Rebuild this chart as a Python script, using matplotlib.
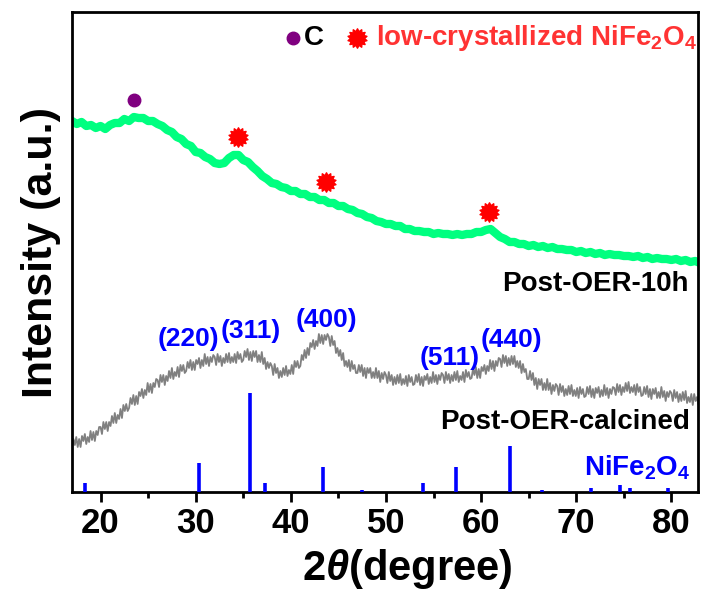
import numpy as np
import matplotlib
matplotlib.use("Agg")
import matplotlib.pyplot as plt
from matplotlib.path import Path

plt.rcParams['font.family'] = ['Liberation Sans', 'DejaVu Sans']
plt.rcParams['font.weight'] = 'bold'
plt.rcParams['mathtext.fontset'] = 'custom'
plt.rcParams['mathtext.rm'] = 'Liberation Sans:bold'
plt.rcParams['mathtext.bf'] = 'Liberation Sans:bold'
plt.rcParams['mathtext.it'] = 'Liberation Sans:italic'

# ---------------- data ----------------
# Post-OER-calcined (grey), 2theta grid 17.00 .. 83.00 step 0.15
calcined_start, calcined_step = 17.0, 0.15
calcined_intensity = [
    44, 53, 47, 55, 45, 53, 45, 56, 51, 58, 48, 55, 50, 61, 52, 60, 51, 61, 57, 65,
    65, 58, 70, 63, 70, 61, 70, 66, 76, 69, 79, 69, 77, 73, 83, 74, 87, 81, 88, 81,
    84, 94, 88, 97, 87, 96, 88, 100, 96, 103, 94, 102, 97, 109, 100, 108, 99, 109, 105, 113,
    112, 105, 117, 110, 117, 107, 116, 111, 121, 114, 124, 113, 120, 116, 125, 115, 127, 121, 127, 119,
    121, 130, 124, 132, 122, 130, 122, 132, 128, 134, 124, 132, 126, 138, 128, 135, 126, 135, 130, 137,
    135, 127, 138, 130, 136, 126, 134, 129, 138, 130, 139, 129, 135, 130, 138, 129, 140, 133, 138, 130,
    132, 141, 135, 143, 132, 140, 131, 141, 135, 141, 130, 137, 130, 140, 128, 134, 123, 130, 124, 129,
    126, 117, 128, 119, 124, 114, 121, 115, 124, 117, 126, 116, 122, 118, 127, 118, 131, 125, 131, 124,
    126, 137, 132, 142, 134, 144, 137, 149, 145, 152, 143, 151, 146, 158, 149, 157, 148, 157, 152, 158,
    155, 146, 156, 147, 151, 139, 144, 136, 142, 132, 139, 126, 131, 125, 132, 121, 131, 123, 127, 119,
    119, 127, 120, 127, 116, 124, 114, 124, 119, 124, 114, 120, 114, 124, 114, 121, 110, 119, 113, 120,
    117, 109, 120, 111, 117, 107, 115, 108, 117, 109, 118, 107, 113, 108, 116, 106, 117, 110, 115, 107,
    108, 117, 110, 118, 107, 115, 106, 116, 112, 118, 108, 115, 109, 120, 110, 117, 108, 117, 112, 119,
    117, 109, 120, 112, 118, 109, 117, 111, 120, 112, 121, 110, 116, 112, 120, 110, 122, 115, 120, 113,
    114, 123, 117, 125, 114, 123, 114, 125, 121, 127, 118, 126, 121, 132, 123, 131, 121, 131, 126, 134,
    133, 125, 137, 129, 136, 126, 134, 127, 136, 128, 136, 125, 131, 124, 131, 119, 128, 120, 123, 113,
    113, 121, 112, 119, 107, 114, 103, 113, 107, 113, 102, 109, 102, 113, 102, 109, 98, 107, 101, 108,
    106, 97, 108, 100, 106, 96, 103, 97, 106, 98, 107, 96, 102, 96, 104, 94, 105, 98, 103, 95,
    96, 105, 98, 106, 95, 103, 94, 104, 99, 105, 95, 102, 96, 107, 97, 104, 94, 103, 98, 105,
    104, 97, 108, 100, 107, 97, 105, 100, 109, 101, 110, 99, 105, 100, 107, 97, 108, 100, 105, 96,
    97, 105, 98, 106, 95, 103, 93, 103, 98, 104, 94, 100, 94, 105, 95, 101, 91, 100, 95, 101,
    99, 91, 102, 94, 100, 90, 98, 91, 100, 92, 101, 89, 95, 90, 98, 87, 98, 91, 95, 87,
    90,
]

# Post-OER-10h (green), 2theta grid 17.0 .. 83.0 step 0.5
oer10h_start, oer10h_step = 17.0, 0.5
oer10h_intensity = [
    371, 368, 370, 366, 367, 364, 366, 363, 367, 369,
    369, 373, 371, 375, 374, 374, 371, 371, 368, 366,
    362, 360, 355, 353, 348, 346, 340, 339, 335, 333,
    329, 328, 329, 334, 337, 337, 332, 330, 325, 321,
    316, 313, 309, 308, 305, 304, 301, 301, 298, 298,
    295, 295, 292, 292, 289, 289, 286, 286, 283, 282,
    279, 278, 275, 274, 271, 270, 268, 268, 266, 266,
    263, 263, 261, 261, 260, 260, 258, 259, 258, 258,
    257, 258, 257, 258, 258, 260, 260, 262, 263, 259,
    255, 253, 250, 250, 248, 248, 246, 247, 245, 246,
    244, 245, 243, 243, 242, 242, 240, 241, 239, 240,
    238, 239, 237, 238, 237, 237, 236, 236, 235, 236,
    234, 235, 233, 234, 233, 233, 232, 233, 231, 232,
    230, 231, 229,
]

# NiFe2O4 reference pattern
ref_2theta = [18.35, 30.30, 35.69, 37.33, 43.36, 47.45, 53.87, 57.39,
              63.00, 66.40, 71.60, 74.60, 75.60, 79.60]
ref_intensity = [9, 29, 99, 9, 25, 2, 9, 25, 46, 2, 4, 7, 4, 4]

# hkl labels
hkl_labels = ['(220)', '(311)', '(400)', '(511)', '(440)']
hkl_x = [29.2, 35.75, 43.75, 56.65, 63.2]
hkl_y = [153, 161, 172, 134, 152]

# phase markers
carbon_x, carbon_y = [23.5], [392]
spinel_x = [34.5, 43.7, 60.8]
spinel_y = [355, 310, 280]

xticks_major = [20, 30, 40, 50, 60, 70, 80]
xticks_minor = [25, 35, 45, 55, 65, 75]

# ---------------- plot ----------------
fig = plt.figure(figsize=(7.01, 5.97), dpi=100)
ax = fig.add_axes([72/701, 1 - 492/597, (698 - 72)/701, (492 - 12)/597])

x_calc = calcined_start + calcined_step * np.arange(len(calcined_intensity))
x_10h = oer10h_start + oer10h_step * np.arange(len(oer10h_intensity))

ax.plot(x_calc, calcined_intensity, color='#808080', lw=1.3, zorder=2)
ax.plot(x_10h, oer10h_intensity, color='#00FF80', lw=6, zorder=2,
        solid_joinstyle='round')

ax.vlines(ref_2theta, 0, ref_intensity, colors='#0000FF', lw=2.6, zorder=3)

for lab, xx, yy in zip(hkl_labels, hkl_x, hkl_y):
    ax.text(xx, yy, lab, color='#0000FF', fontsize=19, ha='center', va='center',
            fontweight='bold')

# starburst marker
n = 14
ang = np.linspace(0, 2 * np.pi, 2 * n, endpoint=False) + np.pi / 2
rad = np.where(np.arange(2 * n) % 2 == 0, 1.0, 0.72)
verts = np.column_stack([rad * np.cos(ang), rad * np.sin(ang)])
verts = np.vstack([verts, verts[:1]])
codes = [Path.MOVETO] + [Path.LINETO] * (2 * n - 1) + [Path.CLOSEPOLY]
burst = Path(verts, codes)

ax.plot(carbon_x, carbon_y, 'o', color='#800080', ms=9, zorder=4)
ax.plot(spinel_x, spinel_y, linestyle='none', marker=burst, color='#FF0000',
        ms=14, zorder=4)

# legend (manual)
ax.plot([40.2], [454], 'o', color='#800080', ms=9, clip_on=False)
ax.text(41.4, 454, 'C', color='black', fontsize=20, va='center', ha='left')
ax.plot([47.0], [454], linestyle='none', marker=burst, color='#FF0000', ms=14)
ax.text(49.0, 454, 'low-crystallized NiFe$_2$O$_4$', color='#FF3333',
        fontsize=20, va='center', ha='left')

ax.text(81.8, 208, 'Post-OER-10h', color='black', fontsize=20, ha='right', va='center')
ax.text(82.0, 70, 'Post-OER-calcined', color='black', fontsize=20, ha='right', va='center')
ax.text(82.0, 24, 'NiFe$_2$O$_4$', color='#0000FF', fontsize=20, ha='right', va='center')

ax.set_xlim(17.0, 82.8)
ax.set_ylim(0, 480)
ax.set_xticks(xticks_major)
ax.set_xticks(xticks_minor, minor=True)
ax.set_yticks([])
ax.tick_params(axis='x', which='major', direction='out', length=7, width=2,
               labelsize=25, pad=4, top=False)
ax.tick_params(axis='x', which='minor', direction='out', length=4, width=2, top=False)
for lab in ax.get_xticklabels():
    lab.set_fontweight('bold')
for sp in ax.spines.values():
    sp.set_linewidth(2)

ax.set_xlabel('2$\\theta$(degree)', fontsize=30, fontweight='bold')
ax.xaxis.set_label_coords((407 - 72) / 626, -0.115)
ax.set_ylabel('Intensity (a.u.)', fontsize=31, fontweight='bold', labelpad=8)

fig.savefig('out.png', dpi=100)
